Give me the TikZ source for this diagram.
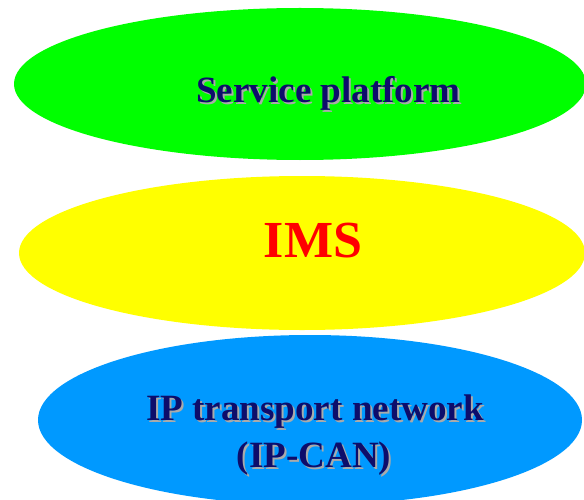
\documentclass[tikz,border=0pt]{standalone}
\usepackage{fontspec}
\setmainfont{Liberation Serif}

\definecolor{layergreen}{RGB}{0,255,0}
\definecolor{layeryellow}{RGB}{255,255,0}
\definecolor{layerblue}{RGB}{0,153,255}
\definecolor{labelnavy}{RGB}{13,13,107}
\definecolor{labelshadow}{RGB}{170,170,170}

\tikzset{every picture/.style={line width=0.75pt}}
\tikzset{
  layertext/.style={anchor=base, inner sep=0pt, font=\bfseries\fontsize{27.8}{35}\selectfont, text=labelnavy},
  layershadow/.style={layertext, text=labelshadow},
  imstext/.style={anchor=base, inner sep=0pt, font=\bfseries\fontsize{39}{47}\selectfont, text=red},
}

\begin{document}
\begin{tikzpicture}[x=0.75pt,y=0.75pt,yscale=-1,xscale=1]
	%set diagram to the size of the reference
	\useasboundingbox (0,0) rectangle (584,499);
	\clip (0,0) rectangle (584,499);

	%Shape: Ellipse [id:service]
	\fill [layergreen] (300,84) ellipse (286 and 76);
	%Shape: Ellipse [id:ims]
	\fill [layeryellow] (302,253) ellipse (283 and 77);
	%Shape: Ellipse [id:ipcan]
	\fill [layerblue] (310,420) ellipse (272 and 85);

	% Text Node
	\node [layershadow] (serviceshadow) at (330.5,105) {Service platform};
	\node [layertext] (service) at (328.5,103) {Service platform};
	% Text Node
	\node [imstext] (ims) at (313,257) {IMS};
	% Text Node
	\node [layershadow] (ipshadow) at (317,422) {IP transport network};
	\node [layertext] (ip) at (315,420) {IP transport network};
	% Text Node
	\node [layershadow] (canshadow) at (316,469) {(IP-CAN)};
	\node [layertext] (can) at (314,467) {(IP-CAN)};

\end{tikzpicture}
\end{document}
